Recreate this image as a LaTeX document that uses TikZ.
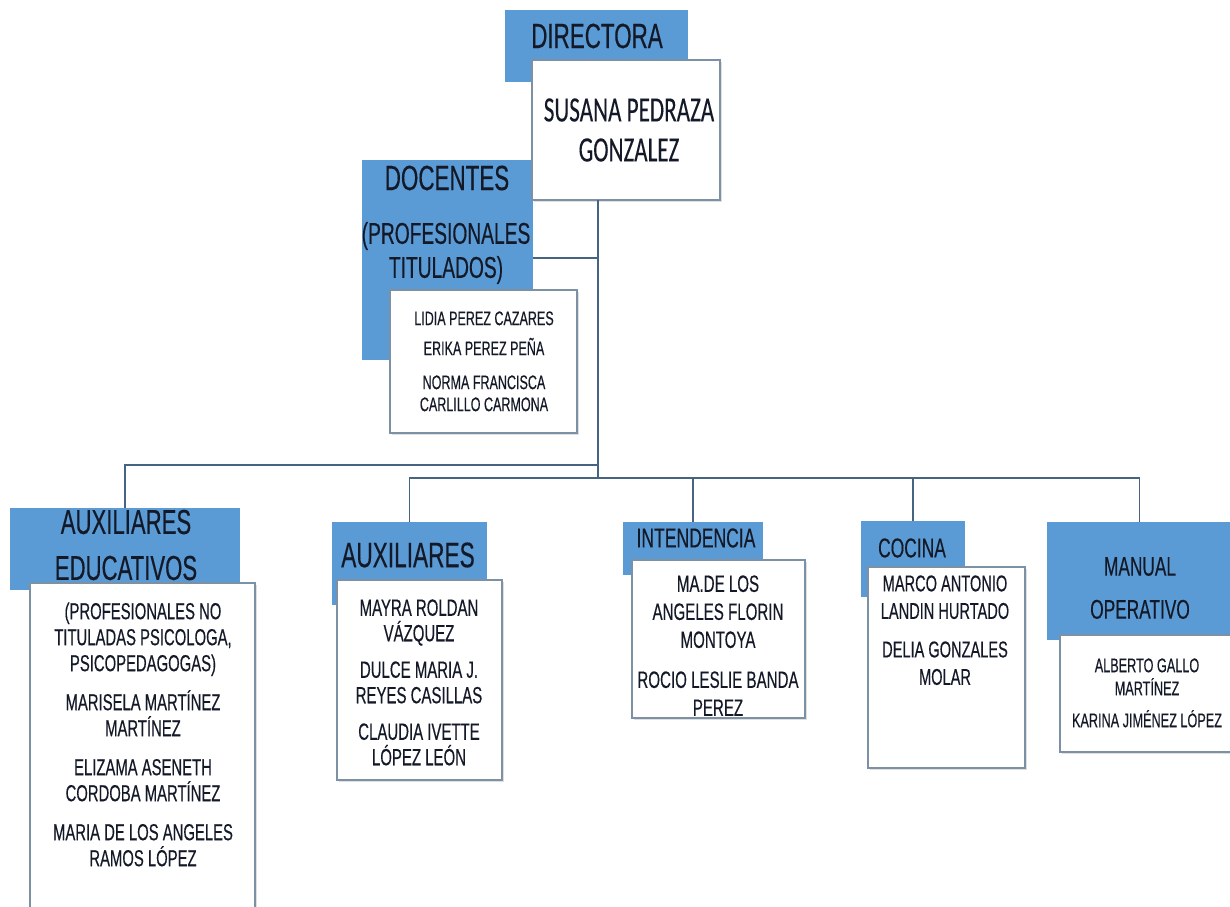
\documentclass[tikz,border=0pt]{standalone}
\usepackage{fontspec}
\setmainfont{Liberation Sans}[FakeStretch=0.64,FakeBold=0.35]
\newfontfamily\calib{Carlito}[FakeStretch=0.65,FakeBold=0.2]
\usetikzlibrary{shadows}
\definecolor{hdrblue}{RGB}{91,155,213}
\definecolor{boxline}{RGB}{125,145,165}
\definecolor{conline}{RGB}{70,100,130}
\definecolor{txt}{RGB}{20,25,40}
\newcommand{\fsz}[2]{\fontsize{#1}{#2}\selectfont}

\begin{document}
\begin{tikzpicture}[x=0.5pt,y=-0.5pt,
  hdr/.style={fill=hdrblue,draw=none,anchor=north west,inner sep=0,outer sep=0},
  box/.style={fill=white,draw=boxline,line width=0.75pt,anchor=north west,inner sep=0,outer sep=0,
    drop shadow={shadow xshift=1pt,shadow yshift=-1pt,opacity=0.25}},
  lbl/.style={text=txt,align=center,inner sep=0},
  con/.style={draw=conline,line width=0.8pt}]
\useasboundingbox (0,0) rectangle (1230,906);
\fill[white] (0,0) rectangle (1230,906);

% header boxes
\node[hdr,minimum width=91.5pt,minimum height=36pt] (dir) at (505,10) {};
\node[hdr,minimum width=85.5pt,minimum height=100pt] (doc) at (362,160) {};
\node[hdr,minimum width=115pt,minimum height=41pt] (auxed) at (10,508) {};
\node[hdr,minimum width=77.5pt,minimum height=41.5pt] (aux) at (332,522) {};
\node[hdr,minimum width=70pt,minimum height=26.5pt] (int) at (623,522) {};
\node[hdr,minimum width=52pt,minimum height=38pt] (coc) at (861,521) {};
\node[hdr,minimum width=92.5pt,minimum height=59pt] (man) at (1047,522) {};

% white boxes
\node[box,minimum width=94pt,minimum height=70pt] (sus) at (532,60) {};
\node[box,minimum width=93.5pt,minimum height=71.5pt] (docw) at (390,290) {};
\node[box,minimum width=112.5pt,minimum height=164.5pt] (auxedw) at (30,583) {};
\node[box,minimum width=82.5pt,minimum height=100pt] (auxw) at (337,580) {};
\node[box,minimum width=86.5pt,minimum height=79pt] (intw) at (632,560) {};
\node[box,minimum width=78.5pt,minimum height=100.5pt] (cocw) at (868,567) {};
\node[box,minimum width=86pt,minimum height=58.5pt] (manw) at (1060,635) {};

% connectors
\coordinate (hub) at (598,478);
\coordinate (lbar) at (598,465);
\coordinate (docj) at (598,258);
\draw[con] (sus.south -| hub) -- (hub);
\draw[con] (docj) -- (docj -| doc.east);
\draw[con] (lbar) -| (auxed.north);
\draw[con] (aux.north) |- (hub) -| (man.north);
\draw[con] (int.north) -- (int.north |- hub);
\draw[con] (coc.north) -- (coc.north |- hub);

% texts
\node[lbl,font=\fsz{17.5}{20}] (dirt) at (597,36) {DIRECTORA};
\node[lbl,font=\calib\fsz{17.8}{20}] (sust) at (629,130) {SUSANA PEDRAZA\\GONZALEZ};
\node[lbl,font=\fsz{17.5}{20}] (doct) at (447,178) {DOCENTES};
\node[lbl,font=\fsz{15}{17}] (docsub) at (446,253) {(PROFESIONALES\\TITULADOS)};
\node[lbl,font=\fsz{9.8}{11},anchor=north] (docn) at (484,311)
  {LIDIA PEREZ CAZARES\\[4pt]ERIKA PEREZ PEÑA\\[6pt]NORMA FRANCISCA\\CARLILLO CARMONA};
\node[lbl,font=\fsz{17.3}{23}] (auxedt) at (126,545) {AUXILIARES\\EDUCATIVOS};
\node[lbl,font=\fsz{11.6}{13},anchor=north] (auxedn) at (143,602)
  {(PROFESIONALES NO\\TITULADAS PSICOLOGA,\\PSICOPEDAGOGAS)\\[6.5pt]MARISELA MARTÍNEZ\\MARTÍNEZ\\[6.5pt]ELIZAMA ASENETH\\CORDOBA MARTÍNEZ\\[6.5pt]MARIA DE LOS ANGELES\\RAMOS LÓPEZ};
\node[lbl,font=\fsz{17.7}{20}] (auxt) at (408,555) {AUXILIARES};
\node[lbl,font=\fsz{11.7}{12.75},anchor=north] (auxn) at (419,599)
  {MAYRA ROLDAN\\VÁZQUEZ\\[5.5pt]DULCE MARIA J.\\REYES CASILLAS\\[5.5pt]CLAUDIA IVETTE\\LÓPEZ LEÓN};
\node[lbl,font=\fsz{13.7}{16}] (intt) at (696,538) {INTENDENCIA};
\node[lbl,font=\fsz{11.8}{14},anchor=north] (intn) at (718,575)
  {MA.DE LOS\\ANGELES FLORIN\\MONTOYA\\[6pt]ROCIO LESLIE BANDA\\PEREZ};
\node[lbl,font=\fsz{13.6}{16}] (coct) at (912,548) {COCINA};
\node[lbl,font=\fsz{11.4}{13.75},anchor=north] (cocn) at (945,575)
  {MARCO ANTONIO\\LANDIN HURTADO\\[5.5pt]DELIA GONZALES\\MOLAR};
\node[lbl,font=\fsz{13.5}{21.5}] (mant) at (1140,588) {MANUAL\\OPERATIVO};
\node[lbl,font=\fsz{9.9}{11.5},anchor=north] (mann) at (1147,658)
  {ALBERTO GALLO\\MARTÍNEZ\\[4.5pt]KARINA JIMÉNEZ LÓPEZ};
\end{tikzpicture}
\end{document}
